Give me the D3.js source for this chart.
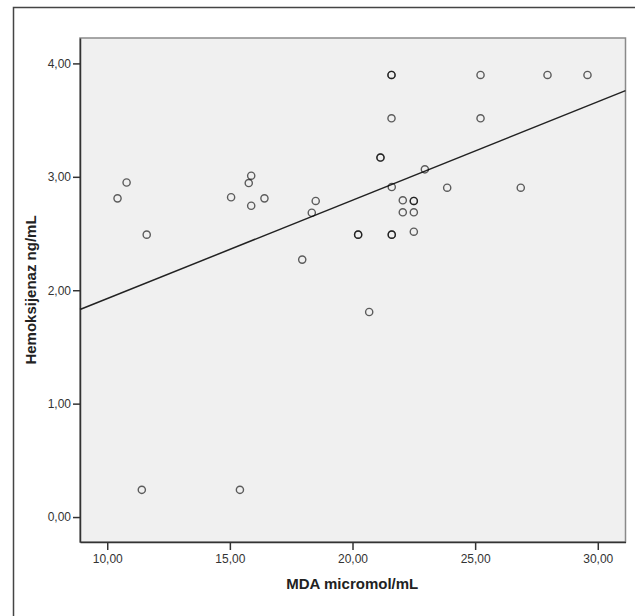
<!DOCTYPE html>
<html>
<head>
<meta charset="utf-8">
<script src="https://cdn.jsdelivr.net/npm/d3@7"></script>
<style>
  html, body { margin: 0; padding: 0; background: #fff; }
  svg { display: block; }
</style>
</head>
<body>
<div id="chart"></div>
<script>
// MDA (x) vs Hemoksijenaz (y); repeated rows are real duplicates (darker rings)
var mdaValues = [
    10.42, 10.79, 11.61, 11.41, 15.41,
    15.05, 15.77, 15.87, 15.87, 16.41,
    17.95, 18.34, 18.50, 20.23, 20.23,
    20.68, 21.14, 21.14, 21.59, 21.59,
    21.59, 21.60, 21.60, 21.60, 22.05,
    22.05, 22.50, 22.50, 22.50, 22.50,
    22.95, 23.86, 25.22, 25.22, 26.86,
    27.95, 29.58
];
var hoValues = [
    2.81, 2.95, 2.49, 0.24, 0.24,
    2.82, 2.945, 3.01, 2.745, 2.81,
    2.27, 2.683, 2.787, 2.49, 2.49,
    1.808, 3.17, 3.17, 3.898, 3.898,
    3.516, 2.91, 2.49, 2.49, 2.793,
    2.687, 2.787, 2.787, 2.687, 2.516,
    3.066, 2.904, 3.898, 3.516, 2.904,
    3.898, 3.898
];
var xTicks = [10, 15, 20, 25, 30];
var yTicks = [0, 1, 2, 3, 4];
// linear fit
var fitIntercept = 1.058;
var fitSlope = 0.0868;

var xTitle = "MDA micromol/mL";
var yTitle = "Hemoksijenaz ng/mL";

(function () {
    "use strict";

    var W = 635, H = 616;
    var plot = { left: 80, top: 38, right: 625.5, bottom: 542 };

    var svg = d3.select("#chart").append("svg")
        .attr("width", W)
        .attr("height", H);

    // outer frame (runs off the right/bottom edge)
    svg.append("path")
        .attr("d", "M13.5," + H + "V7.5H" + W)
        .attr("fill", "none")
        .attr("stroke", "#444")
        .attr("stroke-width", 1.5);

    var x = d3.scaleLinear().domain([8.89, 31.13]).range([plot.left, plot.right]);
    var y = d3.scaleLinear().domain([-0.22, 4.224]).range([plot.bottom, plot.top]);

    // plot background
    svg.append("rect")
        .attr("x", plot.left)
        .attr("y", plot.top)
        .attr("width", plot.right - plot.left)
        .attr("height", plot.bottom - plot.top)
        .attr("fill", "#f0f0f0")
        .attr("stroke", "#8a8a8a")
        .attr("stroke-width", 1.5);

    var fmt = function (d) { return d3.format(".2f")(d).replace(".", ","); };

    var font = "Arial, 'Liberation Sans', sans-serif";

    // axes
    var xAxis = svg.append("g")
        .attr("transform", "translate(0," + plot.bottom + ")")
        .call(d3.axisBottom(x).tickValues(xTicks).tickFormat(fmt).tickSize(8).tickPadding(4).tickSizeOuter(0));
    var yAxis = svg.append("g")
        .attr("transform", "translate(" + plot.left + ",0)")
        .call(d3.axisLeft(y).tickValues(yTicks).tickFormat(fmt).tickSize(7).tickPadding(2).tickSizeOuter(0));

    [xAxis, yAxis].forEach(function (g) {
        g.select(".domain").attr("stroke", "#333").attr("stroke-width", 1.5);
        g.selectAll(".tick line").attr("stroke", "#333").attr("stroke-width", 1.5);
        g.selectAll(".tick text")
            .attr("fill", "#333")
            .attr("font-family", font)
            .attr("font-size", "12px");
    });

    // fit line, clipped to the plot box
    var xd = x.domain();
    svg.append("line")
        .attr("x1", x(xd[0]))
        .attr("y1", y(fitIntercept + fitSlope * xd[0]))
        .attr("x2", x(xd[1]))
        .attr("y2", y(fitIntercept + fitSlope * xd[1]))
        .attr("stroke", "#222")
        .attr("stroke-width", 1.5);

    // points
    var points = mdaValues.map(function (v, i) { return { x: v, y: hoValues[i] }; });
    svg.append("g").selectAll("circle")
        .data(points)
        .enter().append("circle")
        .attr("cx", function (d) { return x(d.x); })
        .attr("cy", function (d) { return y(d.y); })
        .attr("r", 3.6)
        .attr("fill", "none")
        .attr("stroke", "#000")
        .attr("stroke-opacity", 0.62)
        .attr("stroke-width", 1.4);

    // titles
    svg.append("text")
        .attr("x", (plot.left + plot.right) / 2 - 0.5)
        .attr("y", 589)
        .attr("text-anchor", "middle")
        .attr("font-family", font)
        .attr("font-weight", "bold")
        .attr("font-size", "15px")
        .attr("fill", "#222")
        .text(xTitle);

    svg.append("text")
        .attr("transform", "translate(36," + 290 + ") rotate(-90)")
        .attr("text-anchor", "middle")
        .attr("font-family", font)
        .attr("font-weight", "bold")
        .attr("font-size", "15px")
        .attr("fill", "#222")
        .text(yTitle);
})();
</script>
</body>
</html>
